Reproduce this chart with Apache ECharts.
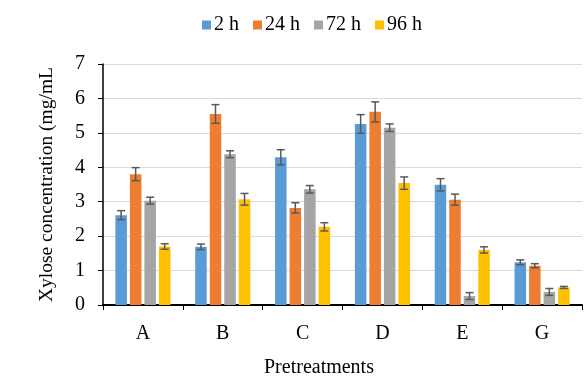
<!DOCTYPE html>
<html>
<head>
<meta charset="utf-8">
<script src="https://cdn.jsdelivr.net/npm/echarts@6/dist/echarts.min.js"></script>
<style>
  html, body { margin: 0; padding: 0; background: #fff; }
  #main { width: 585px; height: 388px; }
</style>
</head>
<body>
<div id="main"></div>
<script>
// data
var categories = ["A", "B", "C", "D", "E", "G"];
var seriesNames = ["2 h", "24 h", "72 h", "96 h"];
var colors = ["#5B9BD5", "#ED7D31", "#A5A5A5", "#FFC000"];

var h2 = [2.61, 1.69, 4.29, 5.26, 3.49, 1.24];
var h24 = [3.80, 5.55, 2.82, 5.61, 3.06, 1.14];
var h72 = [3.03, 4.38, 3.36, 5.15, 0.26, 0.38];
var h96 = [1.70, 3.07, 2.27, 3.54, 1.60, 0.51];

var err2 = [0.13, 0.08, 0.22, 0.27, 0.18, 0.07];
var err24 = [0.19, 0.27, 0.15, 0.29, 0.16, 0.06];
var err72 = [0.10, 0.10, 0.11, 0.11, 0.10, 0.10];
var err96 = [0.08, 0.17, 0.12, 0.18, 0.09, 0.03];

var yTicks = [0, 1, 2, 3, 4, 5, 6, 7];

var values = [h2, h24, h72, h96];
var errors = [err2, err24, err72, err96];

var catGap = 0.31;
var barGap = 0.26;
var font = "Liberation Serif";

var myChart = echarts.init(document.getElementById("main"));

// 误差线
function errorRenderer(idx) {
  return function (params, api) {
    var cat = api.value(0);
    var lo = api.coord([cat, api.value(1)]);
    var hi = api.coord([cat, api.value(2)]);
    var cw = api.size([1, 0])[0];
    var w = cw * (1 - catGap) / (4 + 3 * barGap);
    var x = lo[0] + (idx - 1.5) * w * (1 + barGap);
    var cap = 4;
    var style = { stroke: "#595959", lineWidth: 1.5 };
    return {
      type: "group",
      children: [
        { type: "line", shape: { x1: x, y1: lo[1], x2: x, y2: hi[1] }, style: style },
        { type: "line", shape: { x1: x - cap, y1: lo[1], x2: x + cap, y2: lo[1] }, style: style },
        { type: "line", shape: { x1: x - cap, y1: hi[1], x2: x + cap, y2: hi[1] }, style: style }
      ]
    };
  };
}

var series = [];
seriesNames.forEach(function (name, i) {
  series.push({
    name: name,
    type: "bar",
    data: values[i],
    barGap: barGap * 100 + "%",
    barCategoryGap: catGap * 100 + "%",
    itemStyle: { color: colors[i] }
  });
});
seriesNames.forEach(function (name, i) {
  var d = values[i].map(function (v, k) {
    return [k, v - errors[i][k], v + errors[i][k]];
  });
  series.push({
    type: "custom",
    renderItem: errorRenderer(i),
    data: d,
    z: 5,
    silent: true
  });
});

var option = {
  animation: false,
  color: colors,
  textStyle: { fontFamily: font },
  legend: {
    data: seriesNames,
    left: 197,
    top: 10,
    icon: "rect",
    itemWidth: 9,
    itemHeight: 9,
    itemGap: 14,
    itemStyle: { borderWidth: 0 },
    textStyle: { fontFamily: font, fontSize: 20, color: "#000", padding: [0, 0, 0, -2] }
  },
  title: {
    text: "Pretreatments",
    left: 259,
    top: 353,
    textStyle: { fontFamily: font, fontSize: 20, fontWeight: "normal", color: "#000" }
  },
  grid: { left: 103, right: 3, top: 64, bottom: 83 },
  xAxis: {
    type: "category",
    data: categories,
    axisLine: { lineStyle: { color: "#000", width: 2 } },
    axisTick: { show: true, length: 5, lineStyle: { color: "#000" } },
    axisLabel: { fontFamily: font, fontSize: 20, color: "#000", margin: 19 }
  },
  yAxis: {
    type: "value",
    min: 0,
    max: 7,
    interval: 1,
    name: "Xylose concentration (mg/mL",
    nameLocation: "middle",
    nameGap: 46,
    nameTextStyle: { fontFamily: font, fontSize: 19.5, color: "#000" },
    axisLine: { show: true, lineStyle: { color: "#000", width: 1.5 } },
    axisTick: { show: true, length: 5, lineStyle: { color: "#000" } },
    axisLabel: {
      fontFamily: font, fontSize: 20, color: "#000", margin: 18,
      formatter: function (v) { return yTicks.indexOf(v) >= 0 ? String(v) : ""; }
    },
    splitLine: { lineStyle: { color: "#d9d9d9", width: 1 } }
  },
  series: series
};

myChart.setOption(option);
</script>
</body>
</html>
